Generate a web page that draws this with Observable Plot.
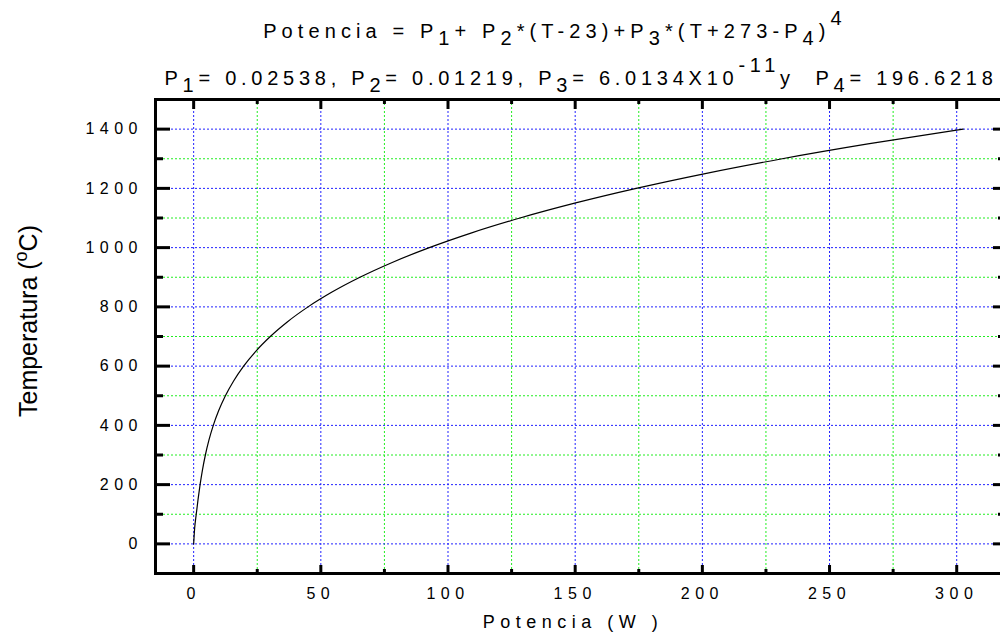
<!DOCTYPE html>
<html>
<head>
<meta charset="utf-8">
<script src="https://cdn.jsdelivr.net/npm/d3@7"></script>
<script src="https://cdn.jsdelivr.net/npm/@observablehq/plot@0.6"></script>
<style>
  html, body { margin: 0; padding: 0; background: #fff; overflow: hidden; }
  #wrap { position: relative; width: 1000px; height: 640px; overflow: hidden; font-family: "Liberation Sans", Arial, sans-serif; color: #000; }
  #chart { position: absolute; left: 0; top: 0; width: 1005px; }
  #chart svg { max-width: none !important; }
  #chart svg text { letter-spacing: 5.5px; }
  .t { position: absolute; white-space: nowrap; font-size: 20px; line-height: 20px; letter-spacing: 4.75px; transform: translateX(-50%); }
  .t.eq { letter-spacing: 5.1px; }
  .sub { position: relative; top: 7px; }
  .sup { position: relative; top: -13px; }
  #xlabel { position: absolute; white-space: nowrap; font-size: 18px; line-height: 18px; letter-spacing: 5.5px; transform: translateX(-50%); }
  #ylabel { position: absolute; white-space: nowrap; font-size: 25px; line-height: 25px; transform: translate(-50%, -50%) rotate(-90deg); }
  #ylabel .sup { top: -10px; font-size: 18px; }
</style>
</head>
<body>
<div id="wrap">
  <div id="chart"></div>
  <div class="t eq" style="left:555px; top:21px;">Potencia = P<span class="sub">1</span>+ P<span class="sub">2</span>*(T-23)+P<span class="sub">3</span>*(T+273-P<span class="sub">4</span>)<span class="sup">4</span></div>
  <div class="t" style="left:581px; top:68px;">P<span class="sub">1</span>= 0.02538, P<span class="sub">2</span>= 0.01219, P<span class="sub">3</span>= 6.0134X10<span class="sup">-11</span>y&nbsp; P<span class="sub">4</span>= 196.6218</div>
  <div id="xlabel" style="left:573px; top:613px;">Potencia (W )</div>
  <div id="ylabel" style="left:30px; top:321px;">Temperatura (<span class="sup">o</span>C)</div>
</div>
<script>
// Heater calibration curve: temperature (°C) against electrical power (W)
const temperatura = [0, 50, 100, 150, 200, 250, 300, 350, 400, 450, 500, 550, 600, 650, 700,
                     750, 800, 850, 900, 950, 1000, 1050, 1100, 1150, 1200, 1250, 1300, 1350, 1400];
const potencia = [0, 0.37, 1.02, 1.73, 2.53, 3.47, 4.61, 6.00, 7.72, 9.85, 12.48, 15.71, 19.65, 24.41, 30.13,
                  36.93, 44.97, 54.39, 65.37, 78.06, 92.66, 109.3, 128.3, 149.8, 174.0, 201.1, 231.4, 265.1, 302.5];

// Axis ticks
const xMajor = [0, 50, 100, 150, 200, 250, 300];
const xMinor = [25, 75, 125, 175, 225, 275];
const yMajor = [0, 200, 400, 600, 800, 1000, 1200, 1400];
const yMinor = [100, 300, 500, 700, 900, 1100, 1300];

const curva = temperatura.map((t, i) => ({t, p: potencia[i]}));

const blue = "#2222ff";
const green = "#22ee22";
const dots = "2,2";
const noText = () => "";

const chart = Plot.plot({
  width: 1005,
  height: 640,
  marginLeft: 155,
  marginRight: 3,
  marginTop: 99,
  marginBottom: 67,
  x: {domain: [-15, 318]},
  y: {domain: [-100, 1500]},
  style: {fontFamily: "'Liberation Sans', Arial, sans-serif", fontSize: "16px", background: "white", color: "black", maxWidth: "none"},
  marks: [
    // dotted grid: green on minor ticks, blue on major ticks
    Plot.ruleX(xMinor, {stroke: green, strokeDasharray: dots}),
    Plot.ruleY(yMinor, {stroke: green, strokeDasharray: dots}),
    Plot.ruleX(xMajor, {stroke: blue, strokeDasharray: dots}),
    Plot.ruleY(yMajor, {stroke: blue, strokeDasharray: dots}),
    // calibration curve
    Plot.line(curva, {x: "p", y: "t", stroke: "black", strokeWidth: 1.2, curve: "monotone-x"}),
    Plot.frame({stroke: "black", strokeWidth: 3}),
    // inward ticks on all four sides
    Plot.axisX(xMajor, {anchor: "bottom", tickSize: -8, strokeWidth: 3, tickFormat: noText, label: null}),
    Plot.axisX(xMinor, {anchor: "bottom", tickSize: -4, strokeWidth: 3, tickFormat: noText, label: null}),
    Plot.axisX(xMajor, {anchor: "top", tickSize: -9, strokeWidth: 3, tickFormat: noText, label: null}),
    Plot.axisX(xMinor, {anchor: "top", tickSize: -4, strokeWidth: 3, tickFormat: noText, label: null}),
    Plot.axisY(yMajor, {anchor: "left", tickSize: -15, strokeWidth: 3, tickFormat: noText, label: null}),
    Plot.axisY(yMinor, {anchor: "left", tickSize: -8, strokeWidth: 3, tickFormat: noText, label: null}),
    Plot.axisY(yMajor, {anchor: "right", tickSize: -10, strokeWidth: 3, tickFormat: noText, label: null}),
    Plot.axisY(yMinor, {anchor: "right", tickSize: -5, strokeWidth: 3, tickFormat: noText, label: null}),
    // tick labels
    Plot.axisX(xMajor, {anchor: "bottom", tickSize: 0, tickPadding: 14, fontSize: 16, tickFormat: d3.format("d"), label: null}),
    Plot.axisY(yMajor, {anchor: "left", tickSize: 0, tickPadding: 12.5, fontSize: 16, tickFormat: d3.format("d"), label: null})
  ]
});
document.getElementById("chart").appendChild(chart);
</script>
</body>
</html>
